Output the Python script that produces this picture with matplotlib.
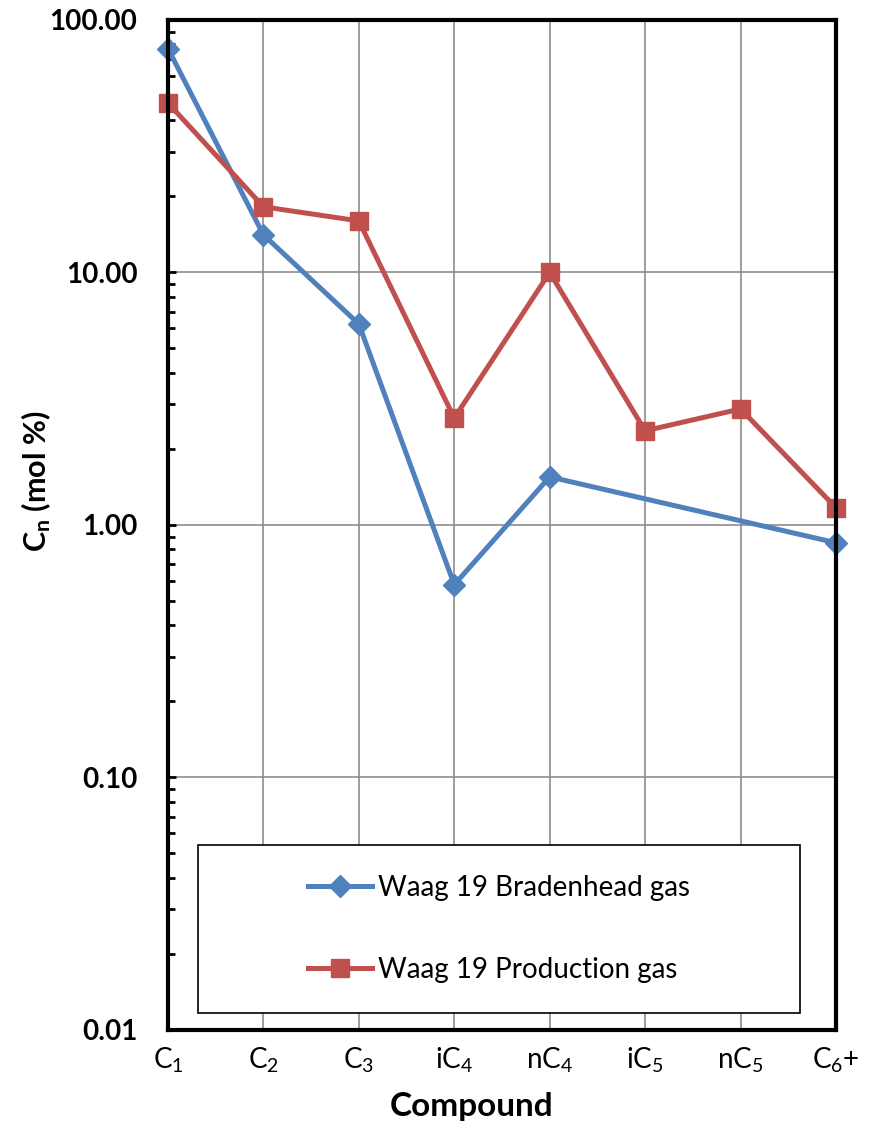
import matplotlib
matplotlib.use("Agg")
import matplotlib.pyplot as plt
from matplotlib.patches import Rectangle
from matplotlib.ticker import FormatStrFormatter, LogLocator, NullFormatter

plt.rcParams['font.family'] = ['Lato', 'DejaVu Sans']
plt.rcParams['mathtext.fontset'] = 'custom'
plt.rcParams['mathtext.rm'] = 'Lato'
plt.rcParams['mathtext.bf'] = 'Lato:bold'

# compounds on the x axis
compounds = [r'$\mathregular{C_1}$', r'$\mathregular{C_2}$', r'$\mathregular{C_3}$',
             r'$\mathregular{iC_4}$', r'$\mathregular{nC_4}$', r'$\mathregular{iC_5}$',
             r'$\mathregular{nC_5}$', r'$\mathregular{C_6}$+']

# bradenhead gas has no iC5 / nC5 value, line just connects over them
brad_idx = [0, 1, 2, 3, 4, 7]
brad_vals = [77.0, 14.1, 6.25, 0.58, 1.55, 0.85]

prod_idx = [0, 1, 2, 3, 4, 5, 6, 7]
prod_vals = [46.9, 18.2, 16.0, 2.65, 10.0, 2.36, 2.88, 1.17]

blue = '#4F81BD'
red = '#C0504D'

fig = plt.figure(figsize=(8.73, 11.27), dpi=100)
ax = fig.add_axes([0.1924, 0.0861, 0.7652, 0.8962])

ax.plot(brad_idx, brad_vals, color=blue, lw=3.6, marker='D', ms=11,
        label='Waag 19 Bradenhead gas', zorder=4, clip_on=False)
ax.plot(prod_idx, prod_vals, color=red, lw=3.6, marker='s', ms=13,
        label='Waag 19 Production gas', zorder=4, clip_on=False)

ax.set_yscale('log')
ax.set_ylim(0.01, 100)
ax.set_xlim(0, 7)
ax.set_xticks(range(len(compounds)))
ax.set_xticklabels(compounds, fontsize=20)
ax.yaxis.set_major_formatter(FormatStrFormatter('%.2f'))
ax.yaxis.set_minor_locator(LogLocator(base=10, subs=range(2, 10)))
ax.yaxis.set_minor_formatter(NullFormatter())
for lab in ax.get_yticklabels():
    lab.set_fontweight('bold')
    lab.set_fontsize(20)

ax.grid(True, which='major', color='#8c8c8c', lw=1.2, zorder=1)
ax.tick_params(axis='x', length=0, pad=11)
ax.tick_params(axis='y', which='major', direction='in', length=6, width=2, pad=22)
ax.tick_params(axis='y', which='minor', direction='in', length=5, width=2)
for s in ax.spines.values():
    s.set_linewidth(3)
    s.set_zorder(5)

ax.set_xlabel('Compound', fontsize=24, fontweight='bold')
ax.xaxis.set_label_coords(0.454, -0.061)
ax.set_ylabel(r'$\mathbf{C_n}$ (mol %)', fontsize=22, fontweight='bold')
ax.yaxis.set_label_coords(-0.172, 0.543)

# legend box sits inside the plot area
box = Rectangle((0.045, 0.017), 0.901, 0.166, transform=ax.transAxes,
                facecolor='white', edgecolor='black', lw=1.2, zorder=3)
ax.add_patch(box)
ax.legend(loc='center', bbox_to_anchor=(0.045 + 0.901 / 2, 0.017 + 0.166 / 2),
          frameon=False, fontsize=20, labelspacing=2.0, handlelength=2.3,
          handletextpad=0.2)

fig.savefig('out.png', dpi=100)
